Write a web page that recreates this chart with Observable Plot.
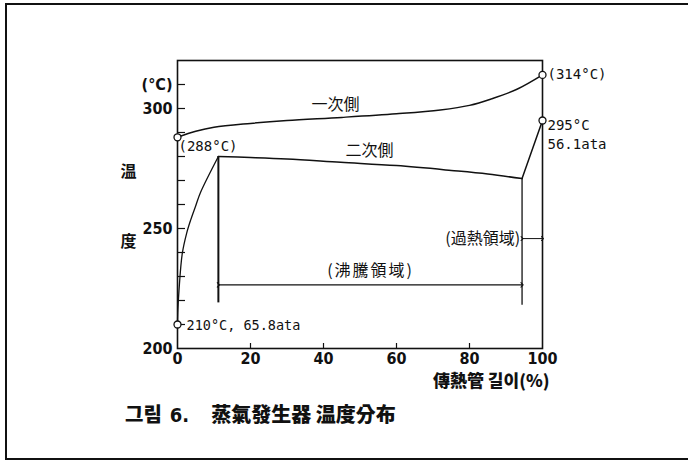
<!DOCTYPE html>
<html>
<head>
<meta charset="utf-8">
<script src="https://cdn.jsdelivr.net/npm/d3@7"></script>
<script src="https://cdn.jsdelivr.net/npm/@observablehq/plot@0.6"></script>
<style>
  body { margin: 0; background: #fff; }
  #page { position: relative; width: 688px; height: 462px; overflow: hidden; background: #fff; }
  #border { position: absolute; left: 5px; top: 3px; width: 720px; height: 453px;
            border-top: 2px solid #111; border-left: 2px solid #111; border-bottom: 2px solid #111; }
  #chart { position: absolute; left: 0; top: 0; }
  #caption { position: absolute; left: 125px; top: 399px; color: #111; white-space: nowrap;
             font-family: "Noto Sans CJK KR", "Noto Sans CJK JP", sans-serif; font-weight: 900; font-size: 20px; }
  #caption .num { font-family: "DejaVu Sans Condensed", "DejaVu Sans", sans-serif; font-stretch: condensed;
                  font-weight: bold; margin-left: 8px; margin-right: 22px; }
  #chart .spaced text { letter-spacing: 2px; }
</style>
</head>
<body>
<div id="page">
  <div id="border"></div>
  <div id="chart"></div>
  <div id="caption">그림<span class="num">6.</span>蒸氣發生器 温度分布</div>
</div>
<script>
// Heat-transfer tube length (%) vs. temperature (°C)
const primaryPct  = [0, 5, 10, 20, 30, 45, 60, 72, 80, 86, 93, 100];
const primaryTemp = [288, 290.5, 292.2, 293.8, 295, 296.3, 297.8, 299.4, 301.3, 304, 308, 314];

// secondary side: preheating, boiling, superheating
const preheatPct   = [0, 0.1, 0.4, 1.3, 2.5, 3.6, 5, 6.3, 11.2];
const preheatTemp  = [210, 216, 224, 239.5, 248, 253.5, 259.5, 265, 280];
const boilPct      = [11.2, 20, 30, 44.7, 60, 75, 85, 94.4];
const boilTemp     = [280, 279.6, 279, 277.6, 276.2, 274.2, 272.7, 270.8];
const superPct     = [94.4, 100];
const superTemp    = [270.8, 295];

// region boundaries and their extents
const edgePct    = [11.2, 94.4];
const edgeBottom = [219, 218];
const edgeTop    = [280, 270.8];

// marked states
const markPct   = [0, 100, 100, 0];
const markTemp  = [288, 314, 295, 210];

const xTicks = [0, 20, 40, 60, 80, 100];
const xMinor = [20, 40, 60, 80];
const yTicks = [200, 250, 300, 310];
const yMinor = [210, 220, 230, 240, 250, 260, 270, 280, 290, 300, 310];
const yTickText = {310: "(°C)"};

const W = 688, H = 400;
const M = {top: 60, right: 146, bottom: 52, left: 177};
const innerW = W - M.left - M.right;
const innerH = H - M.top - M.bottom;

const ink = "#111";
const mono = "DejaVu Sans Mono, monospace";
const cjk = "Noto Sans CJK JP, Noto Sans CJK KR, sans-serif";
const cond = "DejaVu Sans Condensed, DejaVu Sans, sans-serif";

const pairs = (xs, ys) => xs.map((x, i) => ({x, y: ys[i]}));

const chart = Plot.plot({
  width: W, height: H,
  marginTop: M.top, marginRight: M.right, marginBottom: M.bottom, marginLeft: M.left,
  x: {domain: [0, 100]},
  y: {domain: [200, 320]},
  style: {background: "transparent", color: ink},
  marks: [
    Plot.frame({stroke: ink, strokeWidth: 1.6}),
    // inward ticks
    Plot.ruleY(yMinor, {stroke: ink, strokeWidth: 1.2, insetRight: innerW - 8}),
    Plot.ruleX(xMinor, {stroke: ink, strokeWidth: 1.2, insetTop: innerH - 5}),
    Plot.axisY({ticks: yTicks, tickSize: 0, tickPadding: 5, label: null,
      tickFormat: d => yTickText[d] ?? String(d),
      fontSize: 16, fontWeight: "bold", fontFamily: cond}),
    Plot.axisX({ticks: xTicks, tickSize: 0, tickPadding: 4, label: null,
      fontSize: 16, fontWeight: "bold", fontFamily: cond}),
    // axis titles
    Plot.text(["温", "度"], {x: 0, y: [273.5, 244.6], dx: -49, fontSize: 16, fontWeight: "bold", fontFamily: cjk, fill: ink}),
    Plot.text(["傳熱管 길이(%)"], {frameAnchor: "bottom-right", dx: 7, dy: 38, textAnchor: "end",
      fontSize: 17, fontWeight: 900, fontFamily: "Noto Sans CJK KR, sans-serif", fill: ink}),
    // temperature curves
    Plot.line(pairs(primaryPct, primaryTemp), {x: "x", y: "y", curve: "catmull-rom", stroke: ink, strokeWidth: 1.5}),
    Plot.line(pairs(preheatPct, preheatTemp), {x: "x", y: "y", curve: "catmull-rom", stroke: ink, strokeWidth: 1.3}),
    Plot.line(pairs(boilPct, boilTemp), {x: "x", y: "y", curve: "catmull-rom", stroke: ink, strokeWidth: 1.5}),
    Plot.line(pairs(superPct, superTemp), {x: "x", y: "y", stroke: ink, strokeWidth: 1.5}),
    // region boundaries
    Plot.ruleX([0], {x: edgePct[0], y1: edgeBottom[0], y2: edgeTop[0], stroke: ink, strokeWidth: 2}),
    Plot.ruleX([0], {x: edgePct[1], y1: edgeBottom[1], y2: edgeTop[1], stroke: ink, strokeWidth: 1.3}),
    // region spans
    Plot.link([0], {x1: edgePct[0], x2: edgePct[1], y1: 226.5, y2: 226.5, stroke: ink, strokeWidth: 1.1,
      markerStart: "arrow", markerEnd: "arrow"}),
    Plot.link([0], {x1: edgePct[1], x2: 100, y1: 245.8, y2: 245.8, stroke: ink, strokeWidth: 1,
      markerStart: "arrow", markerEnd: "arrow"}),
    Plot.text(["(沸騰領域)"], {x: 52.9, y: 232.5, fontSize: 16, fontFamily: cjk, fill: ink, className: "spaced"}),
    Plot.text(["(過熱領域)"], {x: edgePct[1], y: 245.8, dx: -2, textAnchor: "end", fontSize: 16, fontFamily: cjk, fill: ink}),
    Plot.text(["一次側"], {x: 43.3, y: 301.7, fontSize: 16, fontFamily: cjk, fill: ink}),
    Plot.text(["二次側"], {x: 52.6, y: 282.5, fontSize: 16, fontFamily: cjk, fill: ink}),
    // state points
    Plot.dot(pairs(markPct, markTemp), {x: "x", y: "y", r: 3.5, fill: "white", stroke: ink, strokeWidth: 1.3}),
    Plot.text(["(288°C)"], {x: markPct[0], y: markTemp[0], dx: 1, dy: 9, textAnchor: "start", fontSize: 14, fontFamily: mono, fill: ink}),
    Plot.text(["(314°C)"], {x: markPct[1], y: markTemp[1], dx: 5, textAnchor: "start", fontSize: 14, fontFamily: mono, fill: ink}),
    Plot.text(["295°C"], {x: markPct[2], y: markTemp[2], dx: 5, dy: 5, textAnchor: "start", fontSize: 14, fontFamily: mono, fill: ink}),
    Plot.text(["56.1ata"], {x: markPct[2], y: markTemp[2], dx: 5, dy: 24, textAnchor: "start", fontSize: 14, fontFamily: mono, fill: ink}),
    Plot.text(["210°C, 65.8ata"], {x: markPct[3], y: markTemp[3], dx: 9, dy: 1, textAnchor: "start", fontSize: 13.5, fontFamily: mono, fill: ink})
  ]
});
document.getElementById("chart").appendChild(chart);
</script>
</body>
</html>
